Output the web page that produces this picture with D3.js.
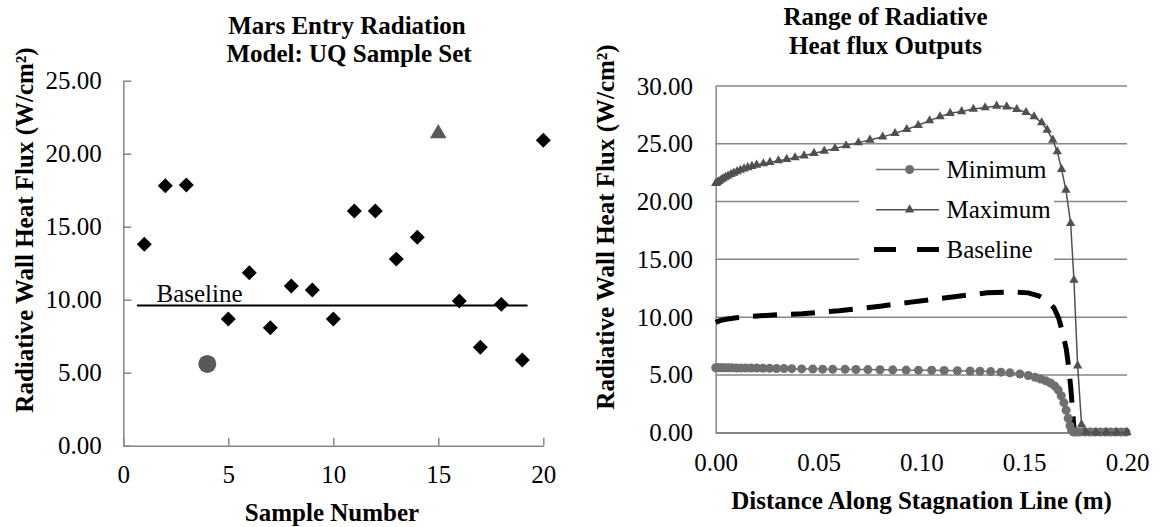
<!DOCTYPE html>
<html>
<head>
<meta charset="utf-8">
<script src="https://cdn.jsdelivr.net/npm/d3@7"></script>
<style>
  body { margin: 0; background: #fff; }
</style>
</head>
<body>
<div id="chart"></div>
<script>
// Left chart: UQ sample set
const sampleNumbers = [1, 2, 3, 4, 5, 6, 7, 8, 9, 10, 11, 12, 13, 14, 15, 16, 17, 18, 19, 20];
const sampleFlux = [13.8, 17.8, 17.85, 5.6, 8.68, 11.85, 8.08, 10.94, 10.66, 8.68,
                    16.08, 16.08, 12.78, 14.28, 21.45, 9.91, 6.74, 9.68, 5.87, 20.92];
const minSample = 4;   // drawn as a circle
const maxSample = 15;  // drawn as a triangle
const baselineFlux = 9.6;
const baselineSpan = [0.65, 19.25];
const leftXTicks = [0, 5, 10, 15, 20];
const leftYTicks = [0, 5, 10, 15, 20, 25];

// Right chart: range of radiative heat flux outputs
const maxDist = [0, 0.0008, 0.0016, 0.0026, 0.0036, 0.0048, 0.006, 0.0074, 0.0088, 0.0104, 0.012, 0.0138,
  0.0156, 0.0176, 0.0199, 0.0232, 0.0264, 0.0305, 0.0345, 0.0386, 0.043, 0.0478, 0.0528, 0.058, 0.0634,
  0.0694, 0.075, 0.0812, 0.0872, 0.0929, 0.0985, 0.104, 0.1091, 0.114, 0.1196, 0.1253, 0.131, 0.1366,
  0.1415, 0.1464, 0.1509, 0.1548, 0.1585, 0.1612, 0.1639, 0.1661, 0.1682, 0.1703, 0.1726, 0.1742, 0.176,
  0.1779, 0.18, 0.185, 0.19, 0.195, 0.2];
const maxFlux = [21.58, 21.65, 21.75, 21.88, 22.0, 22.12, 22.23, 22.36, 22.47, 22.6, 22.72, 22.84,
  22.95, 23.06, 23.17, 23.28, 23.4, 23.54, 23.66, 23.8, 23.97, 24.18, 24.38, 24.6, 24.84,
  25.1, 25.33, 25.6, 25.9, 26.25, 26.6, 27.0, 27.35, 27.64, 27.8, 28.0, 28.13, 28.27,
  28.21, 27.98, 27.72, 27.35, 26.83, 26.19, 25.33, 24.32, 22.79, 21.0, 18.12, 13.2, 5.8,
  0.7, 0.05, 0.02, 0.02, 0.02, 0.02];

const minDist = [0, 0.001, 0.002, 0.0032, 0.0046, 0.0062, 0.008, 0.01, 0.0122, 0.0146, 0.0172, 0.02,
  0.023, 0.0262, 0.0296, 0.0332, 0.037, 0.0418, 0.0472, 0.052, 0.0569, 0.0629, 0.0682, 0.074, 0.0799,
  0.0861, 0.0926, 0.0986, 0.105, 0.1111, 0.1175, 0.1237, 0.1285, 0.1337, 0.1387, 0.1431, 0.1479, 0.152,
  0.1553, 0.158, 0.1605, 0.1628, 0.1648, 0.1665, 0.168, 0.1693, 0.1704, 0.1714, 0.1723, 0.1731, 0.174,
  0.1752, 0.177, 0.1795, 0.182, 0.1845, 0.187, 0.1895, 0.192, 0.1945, 0.197, 0.1995];
const minFlux = [5.62, 5.62, 5.62, 5.62, 5.61, 5.61, 5.61, 5.6, 5.6, 5.6, 5.59, 5.59,
  5.58, 5.57, 5.56, 5.55, 5.54, 5.52, 5.51, 5.5, 5.49, 5.48, 5.47, 5.46, 5.45,
  5.44, 5.42, 5.41, 5.4, 5.38, 5.36, 5.34, 5.32, 5.29, 5.24, 5.18, 5.08, 4.95,
  4.8, 4.65, 4.5, 4.3, 4.05, 3.7, 3.2, 2.6, 1.95, 1.25, 0.6, 0.2, 0.05,
  0.05, 0.05, 0.05, 0.05, 0.05, 0.05, 0.05, 0.05, 0.05, 0.05, 0.05];

const baseDist = [0, 0.002, 0.005, 0.01, 0.02, 0.03, 0.042, 0.06, 0.08, 0.095, 0.115, 0.132, 0.145,
  0.152, 0.157, 0.1615, 0.1645, 0.1668, 0.1688, 0.1705, 0.1717, 0.1727, 0.1735, 0.1742, 0.176, 0.185, 0.195];
const baseFlux = [9.55, 9.7, 9.82, 9.95, 10.1, 10.2, 10.3, 10.55, 10.95, 11.3, 11.75, 12.1, 12.18,
  12.1, 11.85, 11.35, 10.8, 9.9, 8.6, 7.2, 5.6, 3.8, 2.0, 0.4, 0.05, 0.02, 0.02];

const rightXTicks = [0, 0.05, 0.1, 0.15, 0.2];
const rightYTicks = [0, 5, 10, 15, 20, 25, 30];

const width = 1160;
const height = 527;
const axisGray = "#868686";
const serif = '"Liberation Serif"';

const svg = d3.select("#chart")
  .append("svg")
  .attr("width", width)
  .attr("height", height);

// style an axis group the way Excel draws it
function styleAxis(g) {
  g.selectAll("path, line")
    .style("stroke", axisGray)
    .style("stroke-width", 1.5);
  g.selectAll("text")
    .style("font-size", "25px")
    .style("fill", "#000");
}

function addTitle(x, y, label, rotate) {
  return svg.append("text")
    .attr("class", "title")
    .attr("transform", `translate(${x},${y})` + (rotate ? " rotate(-90)" : ""))
    .attr("dy", "0.35em")
    .attr("text-anchor", "middle")
    .style("font-size", "25px")
    .style("font-weight", "bold")
    .text(label);
}

// ---------- left chart ----------
const x1 = d3.scaleLinear().domain([0, 20]).range([123.3, 543.3]);
const y1 = d3.scaleLinear().domain([0, 25]).range([445.7, 80.7]);

svg.append("g")
  .attr("transform", `translate(0,${y1(0)})`)
  .call(d3.axisBottom(x1).tickValues(leftXTicks).tickFormat(d3.format("d"))
    .tickSizeInner(-8).tickSizeOuter(0).tickPadding(20))
  .call(styleAxis);

svg.append("g")
  .attr("transform", `translate(${x1(0)},0)`)
  .call(d3.axisLeft(y1).tickValues(leftYTicks).tickFormat(d3.format(".2f"))
    .tickSizeInner(-8).tickSizeOuter(0).tickPadding(21.6))
  .call(styleAxis);

// baseline
svg.append("line")
  .attr("x1", x1(baselineSpan[0]))
  .attr("x2", x1(baselineSpan[1]))
  .attr("y1", y1(baselineFlux))
  .attr("y2", y1(baselineFlux))
  .attr("stroke", "#000")
  .attr("stroke-width", 2);

svg.append("text")
  .attr("x", x1(1.58))
  .attr("y", y1(baselineFlux) - 4)
  .style("font-size", "25px")
  .text("Baseline");

const samples = sampleNumbers.map((n, i) => ({n: n, v: sampleFlux[i]}));

svg.selectAll(".diamond")
  .data(samples.filter(d => d.n !== minSample && d.n !== maxSample))
  .enter()
  .append("path")
  .attr("class", "diamond")
  .attr("d", d3.symbol(d3.symbolSquare, 112))
  .attr("transform", d => `translate(${x1(d.n)},${y1(d.v)}) rotate(45)`)
  .attr("fill", "#000");

samples.filter(d => d.n === minSample).forEach(d => {
  svg.append("circle")
    .attr("cx", x1(d.n))
    .attr("cy", y1(d.v))
    .attr("r", 9)
    .attr("fill", "#595959");
});

samples.filter(d => d.n === maxSample).forEach(d => {
  svg.append("path")
    .attr("d", d3.symbol(d3.symbolTriangle, 120))
    .attr("transform", `translate(${x1(d.n)},${y1(d.v) + 1})`)
    .attr("fill", "#595959");
});

addTitle(347, 25, "Mars Entry Radiation");
addTitle(349, 53, "Model: UQ Sample Set");
addTitle(332, 512, "Sample Number");
addTitle(24, 230, "Radiative Wall Heat Flux (W/cm²)", true);

// ---------- right chart ----------
const x2 = d3.scaleLinear().domain([0, 0.2]).range([715.7, 1127]);
const y2 = d3.scaleLinear().domain([0, 30]).range([432.7, 86]);

// gridlines
svg.append("g")
  .selectAll("line")
  .data(rightYTicks)
  .enter()
  .append("line")
  .attr("x1", x2(0))
  .attr("x2", x2(0.2))
  .attr("y1", d => y2(d))
  .attr("y2", d => y2(d))
  .attr("stroke", axisGray)
  .attr("stroke-width", 1.5);

svg.append("g")
  .attr("transform", `translate(${x2(0)},0)`)
  .call(d3.axisLeft(y2).tickValues(rightYTicks).tickFormat(d3.format(".2f"))
    .tickSize(0).tickPadding(22.7))
  .call(styleAxis);

svg.append("g")
  .attr("transform", `translate(0,${y2(0)})`)
  .call(d3.axisBottom(x2).tickValues(rightXTicks).tickFormat(d3.format(".2f"))
    .tickSize(0).tickPadding(21))
  .call(styleAxis);

// legend background covers the gridlines
svg.append("rect")
  .attr("x", 859)
  .attr("y", 152)
  .attr("width", 195)
  .attr("height", 130)
  .attr("fill", "#fff");

const line2 = d3.line()
  .x(d => x2(d[0]))
  .y(d => y2(d[1]));

const maxData = maxDist.map((d, i) => [d, maxFlux[i]]);
const minData = minDist.map((d, i) => [d, minFlux[i]]);
const baseData = baseDist.map((d, i) => [d, baseFlux[i]]);

svg.append("path")
  .datum(baseData)
  .attr("d", line2)
  .attr("fill", "none")
  .attr("stroke", "#000")
  .attr("stroke-width", 5)
  .attr("stroke-dasharray", "24,14");

svg.append("path")
  .datum(minData)
  .attr("d", line2)
  .attr("fill", "none")
  .attr("stroke", "#6f6f6f")
  .attr("stroke-width", 1.5);

svg.selectAll(".minpt")
  .data(minData)
  .enter()
  .append("circle")
  .attr("class", "minpt")
  .attr("cx", d => x2(d[0]))
  .attr("cy", d => y2(d[1]))
  .attr("r", 4.5)
  .attr("fill", "#6f6f6f");

svg.append("path")
  .datum(maxData)
  .attr("d", line2)
  .attr("fill", "none")
  .attr("stroke", "#505050")
  .attr("stroke-width", 1.5);

svg.selectAll(".maxpt")
  .data(maxData)
  .enter()
  .append("path")
  .attr("class", "maxpt")
  .attr("d", d3.symbol(d3.symbolTriangle, 38))
  .attr("transform", d => `translate(${x2(d[0])},${y2(d[1])})`)
  .attr("fill", "#505050");

// legend
const legend = svg.append("g");
legend.append("line")
  .attr("x1", 876).attr("x2", 939).attr("y1", 169.5).attr("y2", 169.5)
  .attr("stroke", "#6f6f6f").attr("stroke-width", 1.5);
legend.append("circle")
  .attr("cx", 909.6).attr("cy", 169.5).attr("r", 4.5).attr("fill", "#6f6f6f");
legend.append("line")
  .attr("x1", 876).attr("x2", 939).attr("y1", 209.7).attr("y2", 209.7)
  .attr("stroke", "#505050").attr("stroke-width", 1.5);
legend.append("path")
  .attr("d", d3.symbol(d3.symbolTriangle, 38))
  .attr("transform", "translate(909.6,209.7)")
  .attr("fill", "#505050");
legend.append("line")
  .attr("x1", 874).attr("x2", 939).attr("y1", 249.5).attr("y2", 249.5)
  .attr("stroke", "#000").attr("stroke-width", 5).attr("stroke-dasharray", "22,21");

["Minimum", "Maximum", "Baseline"].forEach((name, i) => {
  legend.append("text")
    .attr("x", 946.5)
    .attr("y", 169.5 + i * 40)
    .attr("dy", "0.35em")
    .style("font-size", "25px")
    .text(name);
});

addTitle(885.5, 16, "Range of Radiative");
addTitle(885.5, 45, "Heat flux Outputs");
addTitle(921.5, 500, "Distance Along Stagnation Line (m)");
addTitle(605, 227, "Radiative Wall Heat Flux (W/cm²)", true);

// one serif face for every label
svg.selectAll("text")
  .style("font-family", serif)
  .style("fill", "#000");
</script>
</body>
</html>
